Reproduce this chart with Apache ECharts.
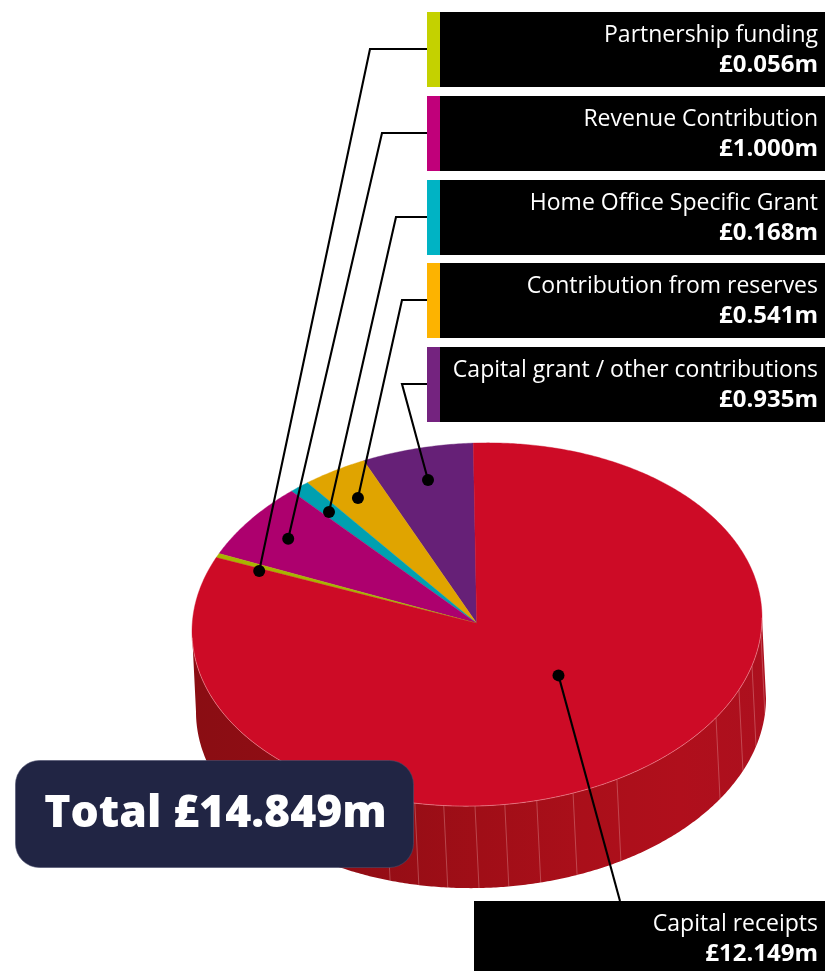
<!DOCTYPE html>
<html><head><meta charset="utf-8">
<style>html,body{margin:0;padding:0;background:#fff}#c{width:825px;height:971px}</style>
<script src="https://cdn.jsdelivr.net/npm/echarts@6/dist/echarts.min.js"></script>
</head><body><div id="c"></div>
<script>
// ---- data (in slice order, anticlockwise from the top of the pie)
var categories = ['Capital grant / other contributions','Contribution from reserves','Home Office Specific Grant','Revenue Contribution','Partnership funding','Capital receipts'];
var values = [0.935,0.541,0.168,1.000,0.056,12.149];
var valueLabels = ['£0.935m','£0.541m','£0.168m','£1.000m','£0.056m','£12.149m'];
var totalLabel = 'Total £14.849m';
var sliceColors = ['#662077','#e0a400','#00a0b0','#ad006e','#a8b400','#cd0b26'];
var keyColors = ['#74237f','#fdb300','#00b3c4','#c0007a','#c4d100','#000000'];

// ---- layout
var TOP = {cx:477,cy:624.5,rx:285,ry:181.5}, APEX = [476.7,623.3];
var BASE = {cx:481,cy:705,rx:285,ry:183};
var START = 0.75, TILT = 0.024;
var dotRadius = [0.821,0.826,0.824,0.828,0.83,0.408];
var dotNudge = [0,0.4,0.5,0.4,1.5,11];
var boxTop = [347,263,180,96,12,901];
var boxLeft = [440,440,440,440,440,474];
var boxHeight = [75,75,75,75,75,70];
var elbowX = [402,402,396,382,370,620];
var facetAngles = [161.4,167.4,173.3,179.6,185.6,192.1,199.7,209.4,237,246.8,254.8,265];
var LABEL_FONT = '"Open Sans"', LABEL_SIZE = 23, VALUE_SIZE = 24;

function rad(d){return d*Math.PI/180;}
function pt(e,t,r){
  r=r==null?1:r;
  var dx=-e.rx*r*Math.sin(rad(t)),dy=-e.ry*r*Math.cos(rad(t));
  return [e.cx+dx,e.cy+dy-TILT*dx];
}
var total = values.reduce(function(a,b){return a+b;},0);
var spans=[],acc=0;
values.forEach(function(v){var a=START+acc/total*360;acc+=v;spans.push([a,START+acc/total*360]);});
function arc(e,a,b){var n=Math.max(2,Math.ceil(Math.abs(b-a)*2)),p=[];for(var i=0;i<=n;i++)p.push(pt(e,a+(b-a)*i/n));return p;}

var sideGrad = new echarts.graphic.LinearGradient(192,0,766,0,[
 {offset:0,color:'#8a0d13'},{offset:0.3,color:'#930d15'},{offset:0.5,color:'#a00e17'},{offset:0.68,color:'#aa0f1a'},{offset:0.85,color:'#b00f1c'},{offset:1,color:'#ac101e'}],true);

function renderSide(params,api){
  var i=api.value(0),s=spans[i],a=Math.max(s[0],90),b=Math.min(s[1],270);
  if(b<=a) return {type:'group',children:[]};
  return {type:'polygon',shape:{points:arc(TOP,a,b).concat(arc(BASE,b,a))},style:{fill:sideGrad}};
}
function renderFacet(params,api){
  var t=api.value(0);
  return {type:'line',shape:{x1:pt(TOP,t)[0],y1:pt(TOP,t)[1],x2:pt(BASE,t)[0],y2:pt(BASE,t)[1]},style:{stroke:'rgba(255,215,215,0.28)',lineWidth:1,fill:null}};
}
function renderSlice(params,api){
  var i=api.value(0),s=spans[i];
  return {type:'polygon',shape:{points:[APEX].concat(arc(TOP,s[0],s[1]))},style:{fill:sliceColors[i],stroke:sliceColors[i],lineWidth:0.4}};
}
function renderRim(params,api){
  return {type:'polyline',shape:{points:arc(TOP,92,270)},style:{stroke:'rgba(255,200,200,0.55)',lineWidth:0.8,fill:null}};
}
function renderLeader(params,api){
  var i=api.value(0),s=spans[i],mid=(s[0]+s[1])/2+dotNudge[i],d=pt(TOP,mid,dotRadius[i]);
  var y=boxTop[i]+37,pts=i===5?[d,[elbowX[i],boxTop[i]]]:[d,[elbowX[i],y],[boxLeft[i]-13,y]];
  return {type:'group',children:[
    {type:'polyline',shape:{points:pts},style:{stroke:'#000',lineWidth:2.1,fill:null,lineJoin:'miter'}},
    {type:'circle',shape:{cx:d[0],cy:d[1],r:6},style:{fill:'#000'}}
  ]};
}
function renderBox(params,api){
  var i=api.value(0),x=boxLeft[i],y=boxTop[i],h=boxHeight[i],kids=[];
  kids.push({type:'rect',shape:{x:x,y:y,width:825-x,height:h},style:{fill:'#000'}});
  if(i<5) kids.push({type:'rect',shape:{x:x-13,y:y,width:13,height:h},style:{fill:keyColors[i]}});
  kids.push({type:'text',style:{text:categories[i],x:818,y:y+23,align:'right',verticalAlign:'middle',fill:'#fff',font:'400 '+LABEL_SIZE+'px '+LABEL_FONT}});
  kids.push({type:'text',style:{text:valueLabels[i],x:818,y:y+53.5,align:'right',verticalAlign:'middle',fill:'#fff',font:'700 '+VALUE_SIZE+'px '+LABEL_FONT}});
  return {type:'group',children:kids};
}
function renderTotal(params,api){
  return {type:'group',children:[
    {type:'rect',shape:{x:15.5,y:760.5,width:398,height:107,r:24},style:{fill:'#212544',stroke:'#4a4e6b',lineWidth:0.6}},
    {type:'text',style:{text:totalLabel,x:215.5,y:814,align:'center',verticalAlign:'middle',fill:'#fff',font:'800 44.5px '+LABEL_FONT}}
  ]};
}
var idx=values.map(function(v,i){return [i,v];});
function custom(render,data,z){return {type:'custom',coordinateSystem:'none',renderItem:render,data:data,z:z,silent:true,animation:false,clip:false};}
var chart=echarts.init(document.getElementById('c'),null,{renderer:'canvas'});
chart.setOption({
  animation:false,backgroundColor:'#fff',tooltip:{show:false},
  series:[
    custom(renderSide,idx,1),
    custom(renderFacet,facetAngles.map(function(t){return [t];}),2),
    custom(renderSlice,idx,3),
    custom(renderRim,[[0]],4),
    custom(renderLeader,idx,5),
    custom(renderBox,idx,6),
    custom(renderTotal,[[total]],7)
  ]
});
</script></body></html>
